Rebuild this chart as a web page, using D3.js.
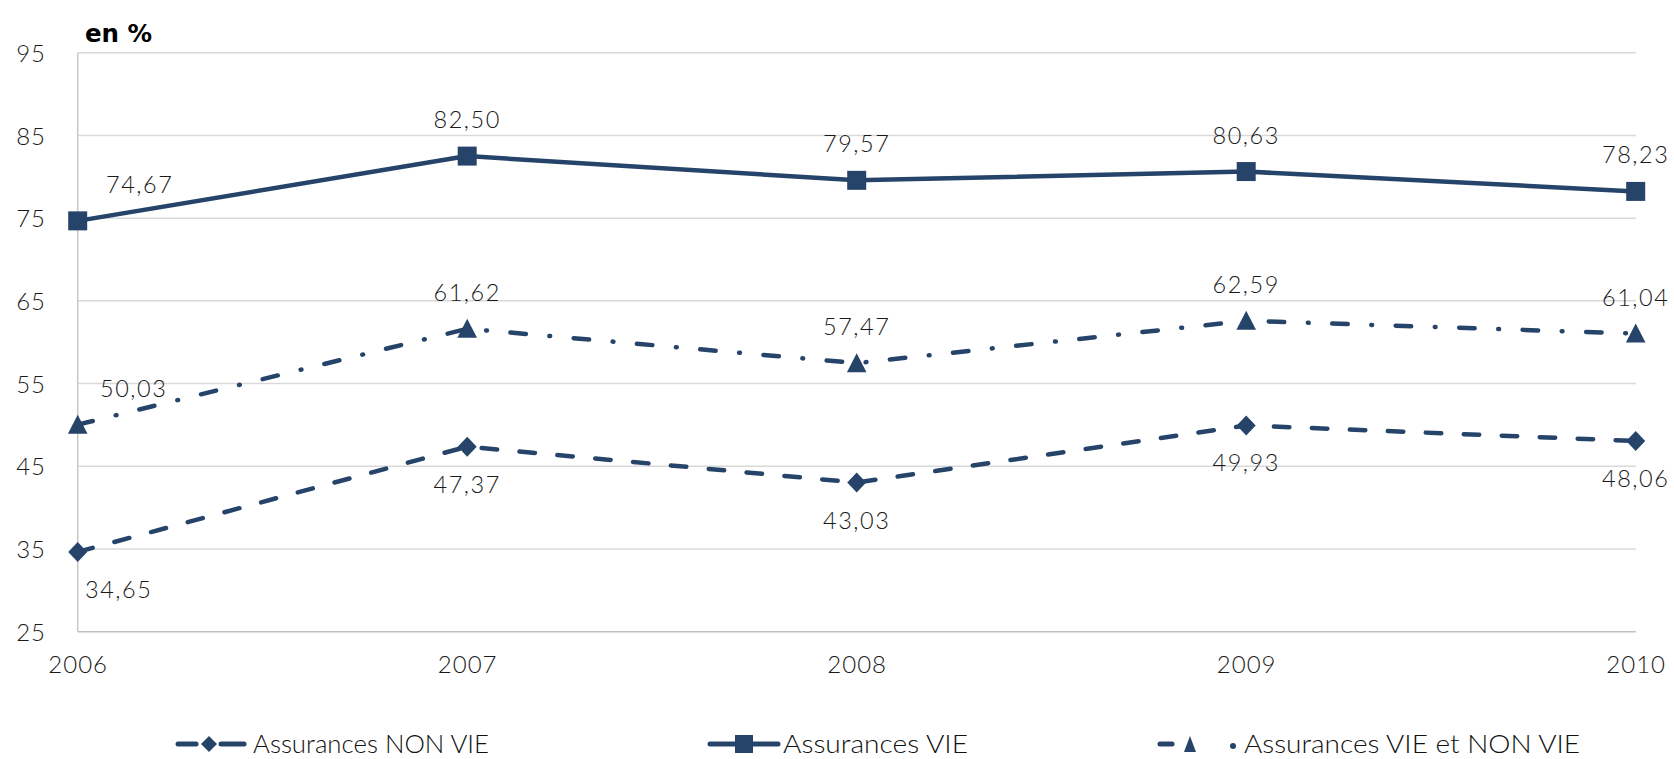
<!DOCTYPE html>
<html>
<head>
<meta charset="utf-8">
<script src="https://cdn.jsdelivr.net/npm/d3@7"></script>
<style>
  html, body { margin: 0; padding: 0; background: #fff; }
  svg { display: block; }
</style>
</head>
<body>
<svg id="chart" width="1674" height="759"></svg>
<script>
// ---- data ----
const years = ["2006", "2007", "2008", "2009", "2010"];
const nonVie = [34.65, 47.37, 43.03, 49.93, 48.06];
const vie = [74.67, 82.50, 79.57, 80.63, 78.23];
const vieEtNonVie = [50.03, 61.62, 57.47, 62.59, 61.04];
const yTicks = [25, 35, 45, 55, 65, 75, 85, 95];
const seriesNames = ["Assurances NON VIE", "Assurances VIE", "Assurances VIE et NON VIE"];

(function () {
// ---- layout / style ----
const color = "#26446a";
const svg = d3.select("#chart");
const pl = 77.7, pr = 1635.7, pt = 52.7, pb = 631.7;

const x = d3.scalePoint().domain(years).range([pl, pr]);
const y = d3.scaleLinear().domain([25, 95]).range([pb, pt]);

// gridlines
svg.append("g").selectAll("line").data(yTicks).join("line")
  .attr("x1", pl).attr("x2", pr)
  .attr("y1", d => y(d)).attr("y2", d => y(d))
  .attr("stroke", d => d === 25 ? "#bfbfbf" : "#d9d9d9")
  .attr("stroke-width", 1.5);

// left axis line
svg.append("line").attr("x1", pl).attr("x2", pl).attr("y1", pt).attr("y2", pb)
  .attr("stroke", "#c8c8c8").attr("stroke-width", 1.5);

const numFont = "Lato, 'Noto Sans', sans-serif";

// y tick labels
const yAxis = d3.axisLeft(y).tickValues(yTicks).tickSize(0).tickPadding(0).tickFormat(d3.format("d"));
const yg = svg.append("g").attr("transform", `translate(46,0)`).call(yAxis);
yg.select(".domain").remove();
yg.selectAll("text").attr("font-family", numFont).attr("font-size", 24).attr("font-weight", 300)
  .attr("fill", "#1a1a1a").attr("letter-spacing", "1px").attr("dy", "0.36em");

// x tick labels
const xAxis = d3.axisBottom(x).tickSize(0).tickPadding(0);
const xg = svg.append("g").attr("transform", `translate(0,${pb})`).call(xAxis);
xg.select(".domain").remove();
xg.selectAll("text").attr("font-family", numFont).attr("font-size", 24).attr("font-weight", 300)
  .attr("fill", "#1a1a1a").attr("letter-spacing", "1px").attr("dy", null).attr("y", 41.5);

// unit label
svg.append("text").attr("x", 85).attr("y", 42)
  .attr("font-family", "'DejaVu Sans', sans-serif").attr("font-weight", "bold")
  .attr("font-size", 24.5).attr("fill", "#000").text("en %");

// series definitions
const dashNon = "15.5 22.5";
const dashMix = "15.5 23.6 0.8 23.6";
const series = [
  { name: seriesNames[0], values: nonVie, dash: dashNon, marker: "diamond", labelDy: 46, firstDx: 41 },
  { name: seriesNames[1], values: vie, dash: null, marker: "square", labelDy: -28, firstDx: 62 },
  { name: seriesNames[2], values: vieEtNonVie, dash: dashMix, marker: "triangle", labelDy: -28, firstDx: 56 }
];

const line = d3.line().x((d, i) => x(years[i])).y(d => y(d));

function markerPath(type) {
  if (type === "square") return "M-9.5,-9.5H9.5V9.5H-9.5Z";
  if (type === "diamond") return "M0,-10L9.5,0L0,10L-9.5,0Z";
  return "M0,-10L9.8,9L-9.8,9Z";
}

const fmt = v => d3.format(".2f")(v).replace(".", ",");

series.forEach(s => {
  const g = svg.append("g");
  g.append("path").datum(s.values).attr("d", line)
    .attr("fill", "none").attr("stroke", color).attr("stroke-width", 4.5)
    .attr("stroke-linecap", s.dash ? "round" : "butt")
    .attr("stroke-linejoin", "round")
    .attr("stroke-dasharray", s.dash);
  g.selectAll("path.m").data(s.values).join("path").attr("class", "m")
    .attr("d", markerPath(s.marker))
    .attr("transform", (d, i) => `translate(${x(years[i])},${y(d)})`)
    .attr("fill", color);
  g.selectAll("text").data(s.values).join("text")
    .attr("x", (d, i) => x(years[i]) + (i === 0 ? s.firstDx : 0))
    .attr("y", d => y(d) + s.labelDy)
    .attr("text-anchor", "middle")
    .attr("font-family", numFont).attr("font-size", 23.5).attr("font-weight", 300)
    .attr("letter-spacing", "1.5px")
    .attr("fill", "#1a1a1a").text(d => fmt(d));
});

// legend
const legendY = 744;
const legendItems = [
  { s: series[0], x0: 176, tx: 253, tw: 236 },
  { s: series[1], x0: 708, tx: 783, tw: 185 },
  { s: series[2], x0: 1158, tx: 1244, tw: 336 }
];
legendItems.forEach(it => {
  const g = svg.append("g");
  const s = it.s;
  if (s.marker === "triangle") {
    g.append("line").attr("x1", it.x0 + 2).attr("x2", it.x0 + 14).attr("y1", legendY).attr("y2", legendY)
      .attr("stroke", color).attr("stroke-width", 5).attr("stroke-linecap", "round");
    g.append("path").attr("d", "M0,-8L6,8L-6,8Z").attr("transform", `translate(${it.x0 + 32},${legendY})`).attr("fill", color);
    g.append("circle").attr("cx", it.x0 + 75).attr("cy", legendY + 2).attr("r", 3).attr("fill", color);
  } else if (s.marker === "diamond") {
    g.append("line").attr("x1", it.x0 + 2).attr("x2", it.x0 + 20).attr("y1", legendY).attr("y2", legendY)
      .attr("stroke", color).attr("stroke-width", 5).attr("stroke-linecap", "round");
    g.append("line").attr("x1", it.x0 + 45).attr("x2", it.x0 + 68).attr("y1", legendY).attr("y2", legendY)
      .attr("stroke", color).attr("stroke-width", 5).attr("stroke-linecap", "round");
    g.append("path").attr("d", "M0,-8L8,0L0,8L-8,0Z").attr("transform", `translate(${it.x0 + 33},${legendY})`).attr("fill", color);
  } else {
    g.append("line").attr("x1", it.x0 + 2).attr("x2", it.x0 + 70).attr("y1", legendY).attr("y2", legendY)
      .attr("stroke", color).attr("stroke-width", 5).attr("stroke-linecap", "round");
    g.append("path").attr("d", "M-9,-9H9V9H-9Z").attr("transform", `translate(${it.x0 + 36},${legendY})`).attr("fill", color);
  }
  g.append("text").attr("x", it.tx).attr("y", legendY + 9)
    .attr("font-family", "Lato, 'Noto Sans', sans-serif").attr("font-size", 26).attr("font-weight", 300)
    .attr("fill", "#111")
    .attr("textLength", it.tw).attr("lengthAdjust", "spacingAndGlyphs")
    .text(s.name);
});
})();
</script>
</body>
</html>
